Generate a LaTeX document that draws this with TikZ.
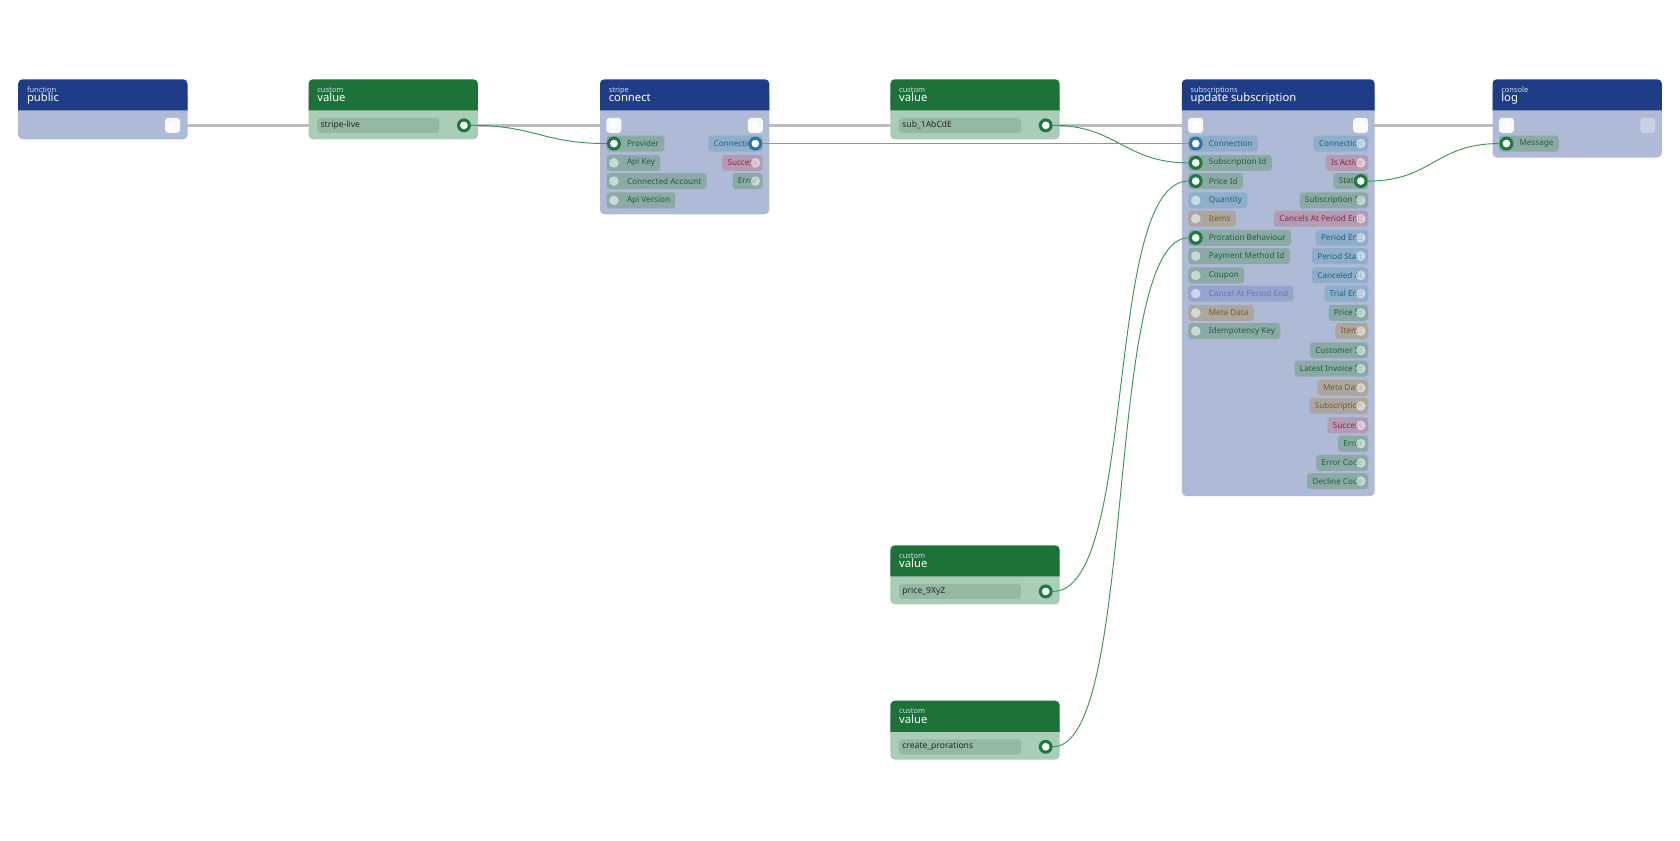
\documentclass[tikz,border=0pt]{standalone}
\usepackage{fontspec}
\setmainfont{Noto Sans}
\begin{document}
\definecolor{hdB}{HTML}{1F3D87}
\definecolor{hdG}{HTML}{1C7239}
\definecolor{bdB}{HTML}{AEBAD6}
\definecolor{bdG}{HTML}{A9CDB6}
\definecolor{fld}{HTML}{95B8A2}
\definecolor{pGf}{HTML}{8BAAA6}\definecolor{pGt}{HTML}{1F5E3F}
\definecolor{pBf}{HTML}{8EAECB}\definecolor{pBt}{HTML}{225F80}
\definecolor{pRf}{HTML}{B39CB3}\definecolor{pRt}{HTML}{8B2744}
\definecolor{pTf}{HTML}{ABA69F}\definecolor{pTt}{HTML}{7B5B1E}
\definecolor{pPf}{HTML}{97A4CF}\definecolor{pPt}{HTML}{6677A8}
\definecolor{portG}{HTML}{1C7A3E}
\definecolor{portB}{HTML}{2A74A0}
\definecolor{lnG}{HTML}{3E9A5A}
\definecolor{lnB}{HTML}{5AA6C8}
\definecolor{exec}{HTML}{BDBDBD}
\begin{tikzpicture}[x=1pt,y=-1pt,
  pill/.style={rounded corners=3pt,minimum height=15pt,inner ysep=0pt,inner xsep=5pt,font=\fontsize{7.6}{9}\selectfont},
  G/.style={fill=pGf,text=pGt},B/.style={fill=pBf,text=pBt},R/.style={fill=pRf,text=pRt},
  T/.style={fill=pTf,text=pTt},P/.style={fill=pPf,text=pPt},
  pg/.style={circle,fill=portG,minimum size=13pt,inner sep=0pt,path picture={\fill[white] (path picture bounding box.center) circle (3.6pt);}},
  pb/.style={circle,fill=portB,minimum size=13pt,inner sep=0pt,path picture={\fill[white] (path picture bounding box.center) circle (3.6pt);}},
  pi/.style={circle,fill=white,fill opacity=0.55,minimum size=9pt,inner sep=0pt},
  pe/.style={rectangle,rounded corners=3pt,fill=white!93!bdB,minimum size=14pt,inner sep=0pt,path picture={\fill[white] (path picture bounding box.center) circle (3.6pt);}},
  pef/.style={rectangle,rounded corners=3pt,fill=white,fill opacity=0.35,minimum size=14pt,inner sep=0pt},
  ex/.style={exec,line width=3pt},
  lg/.style={lnG,line width=0.9pt},
  lb/.style={lnB,line width=0.9pt},
  cat/.style={anchor=base west,text=white!80!hdB,inner sep=0pt,font=\fontsize{7}{8}\selectfont},
  ttl/.style={anchor=base west,text=white,inner sep=0pt,font=\fontsize{10.5}{12}\selectfont},
  fldt/.style={anchor=west,inner sep=0pt,text=black!85,font=\fontsize{8}{9}\selectfont}]
\useasboundingbox (0,0) rectangle (1568,784);
\newcommand\nbox[8]{% name,x1,x2,ybot,head,body,cat,title
  \fill[#6,rounded corners=4pt] (#2,80) rectangle (#3,#4);
  \fill[#5] (#2,103) [rounded corners=4pt] -- (#2,#8) -- (#3,#8) [sharp corners] -- (#3,103) -- cycle;
  \node[cat] at (#2+8,#8+12) {#7};}
\newcommand\mybox[9]{% name x1 x2 ytop ybot head body cat title
  \fill[#7,rounded corners=4pt] (#2,#4+10) rectangle (#3,#5);
  \fill[#6] (#2,#4+29) [rounded corners=4pt] -- (#2,#4) -- (#3,#4) [sharp corners] -- (#3,#4+29) -- cycle;
  \node[cat] (#1c) at (#2+8,#4+12) {#8};
  \node[ttl] (#1t) at (#2+8,#4+21) {#9};}
\newcommand\lrow[6]{\node[pill,#4,anchor=west] at (#2-7,#3) {\hspace{14pt}#5};\node[#6] (#1) at (#2,#3) {};}
\newcommand\rrow[6]{\node[pill,#4,anchor=east] at (#2+7,#3) {#5\hspace{14pt}};\node[#6] (#1) at (#2,#3) {};}
\newcommand\vfield[4]{% name x1 ytop text
  \fill[fld,rounded corners=3pt] (#2+8,#3+36) rectangle (#2+122,#3+50);
  \node[fldt] (#1f) at (#2+11,#3+43) {#4};
  \node[pg] (#1) at (#2+145,#3+43) {};}
% exec lines
\draw[ex] (161,117) -- (573,117);
\draw[ex] (705,117) -- (1116,117);
\draw[ex] (1270,117) -- (1406,117);
% boxes
\mybox{pub}{17}{175}{74}{130}{hdB}{bdB}{function}{public}
\mybox{vA}{288}{446}{74}{130}{hdG}{bdG}{custom}{value}
\mybox{con}{560}{718}{74}{200}{hdB}{bdB}{stripe}{connect}
\mybox{vB}{831}{989}{74}{130}{hdG}{bdG}{custom}{value}
\mybox{upd}{1103}{1283}{74}{463}{hdB}{bdB}{subscriptions}{update subscription}
\mybox{log}{1393}{1551}{74}{147}{hdB}{bdB}{console}{log}
\mybox{vC}{831}{989}{509}{564}{hdG}{bdG}{custom}{value}
\mybox{vD}{831}{989}{654}{709}{hdG}{bdG}{custom}{value}
% exec ports
\node[pe] (pubo) at (161,117) {};
\node[pe] (coni) at (573,117) {};
\node[pe] (cono) at (705,117) {};
\node[pe] (updi) at (1116,117) {};
\node[pe] (updo) at (1270,117) {};
\node[pe] (logi) at (1406,117) {};
\node[pef] (logo) at (1538,117) {};
% value fields
\vfield{vAo}{288}{74}{stripe-live}
\vfield{vBo}{831}{74}{sub\_1AbCdE}
\vfield{vCo}{831}{509}{price\_9XyZ}
\vfield{vDo}{831}{654}{create\_prorations}
% connect rows
\lrow{cProv}{573}{134}{G}{Provider}{pg}
\rrow{cConn}{705}{134}{B}{Connection}{pb}
\lrow{cKey}{573}{152}{G}{Api Key}{pi}
\rrow{cSucc}{705}{152}{R}{Success}{pi}
\lrow{cAcc}{573}{169}{G}{Connected Account}{pi}
\rrow{cErr}{705}{169}{G}{Error}{pi}
\lrow{cVer}{573}{187}{G}{Api Version}{pi}
% update rows
\lrow{uConn}{1116}{134}{B}{Connection}{pb}
\rrow{uConnO}{1270}{134}{B}{Connection}{pi}
\lrow{uSub}{1116}{152}{G}{Subscription Id}{pg}
\rrow{uAct}{1270}{152}{R}{Is Active}{pi}
\lrow{uPrice}{1116}{169}{G}{Price Id}{pg}
\rrow{uStat}{1270}{169}{G}{Status}{pg}
\lrow{uQty}{1116}{187}{B}{Quantity}{pi}
\rrow{uSubO}{1270}{187}{G}{Subscription Id}{pi}
\lrow{uItems}{1116}{204}{T}{Items}{pi}
\rrow{uCanc}{1270}{204}{R}{Cancels At Period End}{pi}
\lrow{uPror}{1116}{222}{G}{Proration Behaviour}{pg}
\rrow{uPEnd}{1270}{222}{B}{Period End}{pi}
\lrow{uPay}{1116}{239}{G}{Payment Method Id}{pi}
\rrow{uPStart}{1270}{239}{B}{Period Start}{pi}
\lrow{uCoup}{1116}{257}{G}{Coupon}{pi}
\rrow{uCanAt}{1270}{257}{B}{Canceled At}{pi}
\lrow{uCAPE}{1116}{274}{P}{Cancel At Period End}{pi}
\rrow{uTrial}{1270}{274}{B}{Trial End}{pi}
\lrow{uMeta}{1116}{292}{T}{Meta Data}{pi}
\rrow{uPriceO}{1270}{292}{G}{Price Id}{pi}
\lrow{uIdem}{1116}{309}{G}{Idempotency Key}{pi}
\rrow{uItemsO}{1270}{309}{T}{Items}{pi}
\rrow{uCust}{1270}{327}{G}{Customer Id}{pi}
\rrow{uInv}{1270}{344}{G}{Latest Invoice Id}{pi}
\rrow{uMetaO}{1270}{362}{T}{Meta Data}{pi}
\rrow{uSubs}{1270}{379}{T}{Subscription}{pi}
\rrow{uSucc}{1270}{397}{R}{Success}{pi}
\rrow{uErr}{1270}{414}{G}{Error}{pi}
\rrow{uECode}{1270}{432}{G}{Error Code}{pi}
\rrow{uDCode}{1270}{449}{G}{Decline Code}{pi}
% log
\lrow{lMsg}{1406}{134}{G}{Message}{pg}
% data connectors
\draw[lg] (vAo.east) .. controls +(60,0) and +(-60,0) .. (cProv.west);
\draw[lb] (cConn.east) -- (uConn.west);
\draw[lg] (vBo.east) .. controls +(60,0) and +(-60,0) .. (uSub.west);
\draw[lg] (vCo.east) .. controls +(80,0) and +(-80,0) .. (uPrice.west);
\draw[lg] (vDo.east) .. controls +(80,0) and +(-80,0) .. (uPror.west);
\draw[lg] (uStat.east) .. controls +(60,0) and +(-60,0) .. (lMsg.west);
\end{tikzpicture}
\end{document}
